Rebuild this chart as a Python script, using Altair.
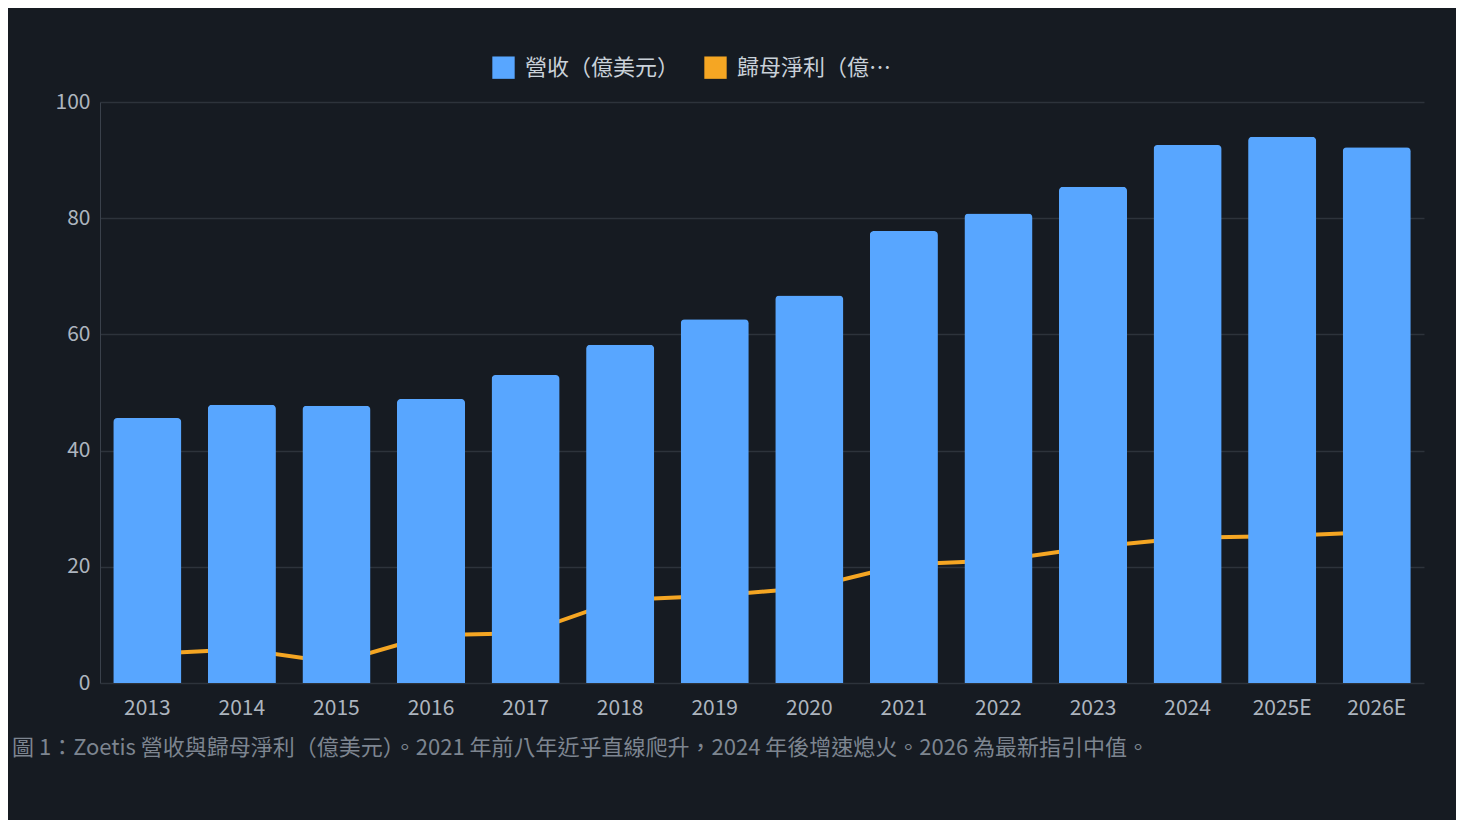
import altair as alt
import pandas as pd

years = ["2013", "2014", "2015", "2016", "2017", "2018", "2019", "2020",
         "2021", "2022", "2023", "2024", "2025E", "2026E"]
revenue = [45.6, 47.9, 47.7, 48.9, 53.0, 58.2, 62.6, 66.7, 77.8, 80.8, 85.4, 92.6, 94.0, 92.2]
net_income = [5.0, 5.8, 3.5, 8.2, 8.6, 14.3, 15.0, 16.4, 20.4, 21.1, 23.4, 25.0, 25.3, 26.0]

series = ["營收（億美元）", "歸母淨利（億美元）"]
colors = ["#58a6ff", "#f5a623"]

df = pd.DataFrame({"year": years, "revenue": revenue, "net": net_income})
df["s"] = series[0]

font = "Noto Sans CJK TC"

x = alt.X("year:N", sort=years, title=None,
          scale=alt.Scale(paddingInner=0.28, paddingOuter=0.14),
          axis=alt.Axis(labelAngle=0, labelPadding=14, ticks=False, domain=False))
y = alt.Y("revenue:Q", title=None, scale=alt.Scale(domain=[0, 100]),
          axis=alt.Axis(tickCount=10, values=list(range(0, 101, 10)), labelPadding=10,
                        ticks=False, domain=True, domainColor="#3a414b"))

line = alt.Chart(df).mark_line(strokeWidth=4, color=colors[1]).encode(
    x=x, y=alt.Y("net:Q", scale=alt.Scale(domain=[0, 100]))
)

bars = alt.Chart(df).mark_bar(cornerRadiusTopLeft=4, cornerRadiusTopRight=4).encode(
    x=x, y=y,
    color=alt.Color("s:N", scale=alt.Scale(domain=series, range=colors),
                    legend=alt.Legend(title=None, orient="none", direction="horizontal",
                                      legendX=392, legendY=-46, symbolType="square",
                                      symbolSize=500, labelFontSize=22, labelColor="#c9d1d9",
                                      labelFont=font, columnPadding=24, symbolStrokeWidth=0,
                                      labelOffset=10)),
)

chart = (line + bars).properties(
    width=1324, height=581,
    autosize=alt.AutoSizeParams(type="none"),
    padding={"left": 92, "top": 94, "right": 32, "bottom": 137},
    background="#161b22",
    title=alt.TitleParams(
        "圖 1：Zoetis 營收與歸母淨利（億美元）。2021 年前八年近乎直線爬升，2024 年後增速熄火。2026 為最新指引中值。",
        orient="bottom", anchor="start", dx=-43, offset=20, fontSize=22,
        font=font, fontWeight="normal", color="#7d8590"),
).configure_axis(
    labelFont=font, labelFontSize=21, labelColor="#adb5bf",
    gridColor="#2d333b", gridWidth=1.5,
).configure_axisX(grid=False).configure_view(stroke=None)

chart.save("out.html", embed_options={"renderer": "svg", "actions": False})
